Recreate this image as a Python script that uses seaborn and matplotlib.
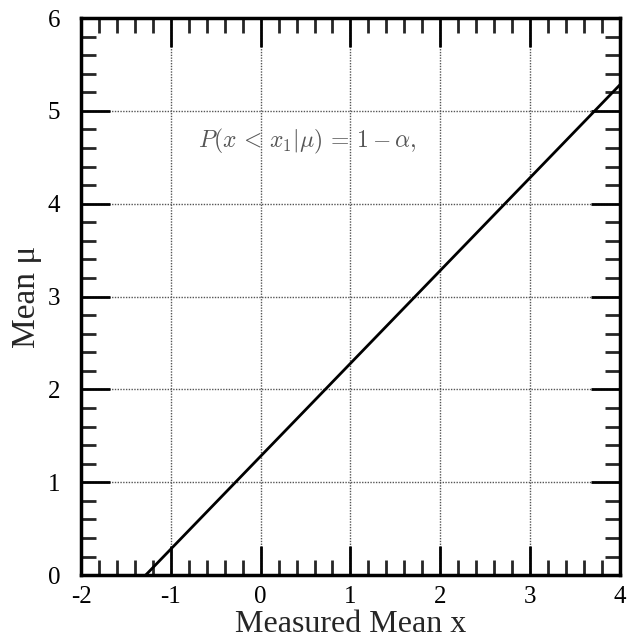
import matplotlib
matplotlib.use("Agg")
import matplotlib.pyplot as plt
import seaborn as sns
import pandas as pd
from matplotlib.ticker import MultipleLocator

measured_x = [-1.28, 4.0]
mean_mu = [0.0, 5.28]
x_ticks = [-2, -1, 0, 1, 2, 3, 4]
y_ticks = [0, 1, 2, 3, 4, 5, 6]

sns.set_theme(style="white")
plt.rcParams['font.family'] = ['Liberation Serif', 'DejaVu Serif']
plt.rcParams['mathtext.fontset'] = 'cm'

df = pd.DataFrame({"x": measured_x, "mu": mean_mu})

fig = plt.figure(figsize=(6.28, 6.44), dpi=100)
ax = fig.add_axes([0.129, 0.107, 0.858, 0.865])
sns.lineplot(data=df, x="x", y="mu", ax=ax, color="black", linewidth=2)

ax.set_xlim(-2, 4)
ax.set_ylim(0, 6)
ax.set_xticks(x_ticks)
ax.set_yticks(y_ticks)
ax.set_xticklabels([str(t) for t in x_ticks])
ax.set_yticklabels([str(t) for t in y_ticks])
ax.xaxis.set_minor_locator(MultipleLocator(0.2))
ax.yaxis.set_minor_locator(MultipleLocator(0.2))
ax.tick_params(which="major", direction="in", length=21, width=2,
               bottom=True, left=True, top=True, right=True,
               labelsize=18, colors="black")
ax.tick_params(which="minor", direction="in", length=11, width=2,
               bottom=True, left=True, top=True, right=True)
ax.tick_params(axis="x", which="major", pad=8)
ax.tick_params(axis="y", which="major", pad=15)
ax.grid(True, which="major", linestyle=(0, (1, 1)), color="#555555", linewidth=1)
for s in ax.spines.values():
    s.set_linewidth(2.5)
    s.set_color("black")

ax.set_xlabel("Measured Mean x", fontsize=23, labelpad=1)
ax.set_ylabel("Mean μ", fontsize=24, labelpad=4)

ax.text(-0.70, 4.67, r"$P(x\,<\,x_1|\mu)\,=\,1 - \alpha,$", fontsize=17, color="#555555",
        va="center", ha="left")

fig.savefig("out.png", dpi=100)
